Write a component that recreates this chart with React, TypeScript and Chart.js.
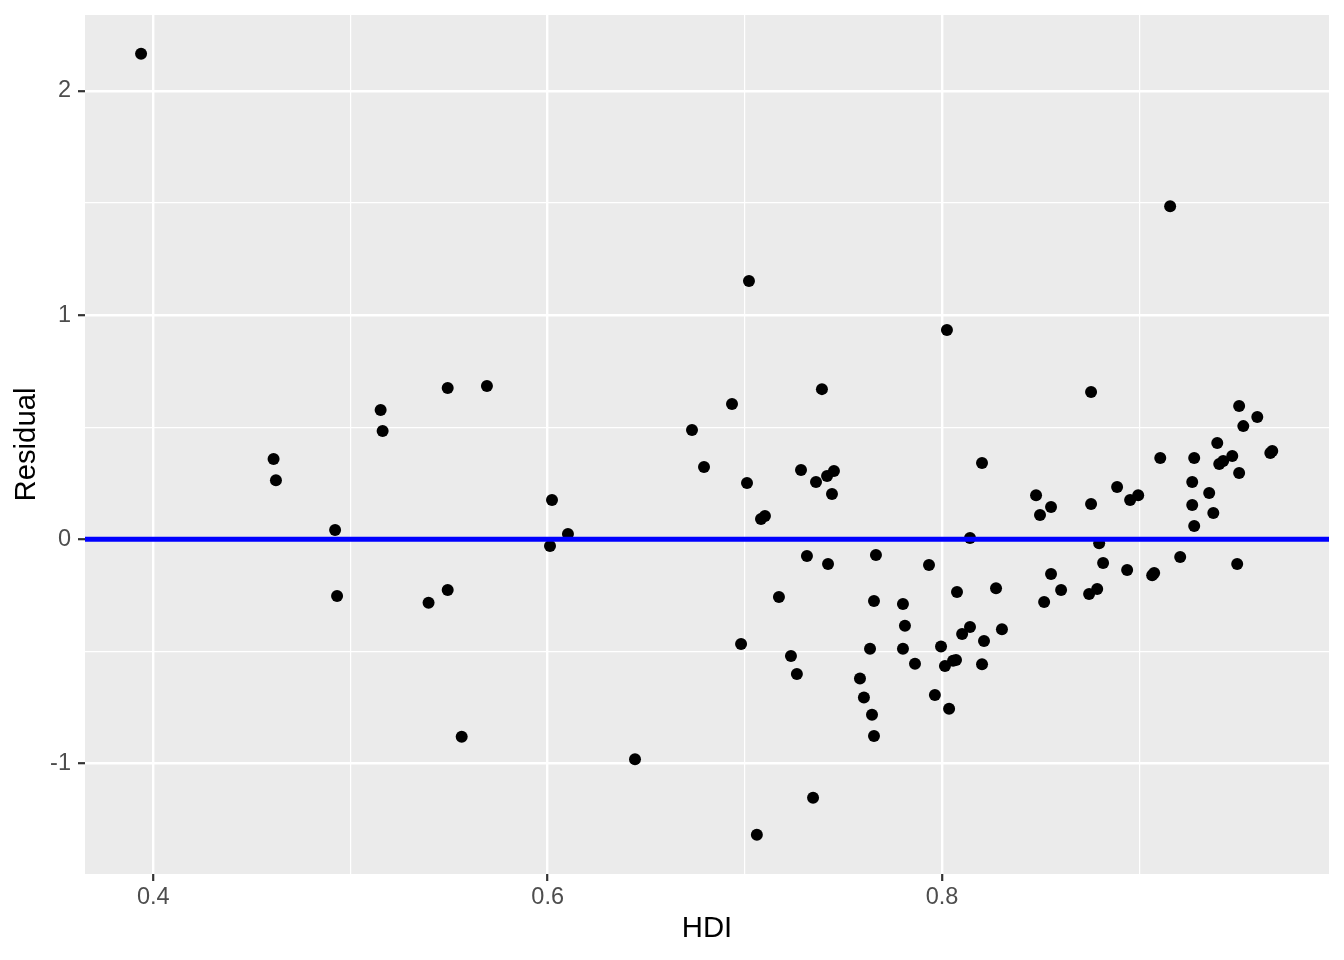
import React, { useEffect, useRef } from "react";
import { Chart, registerables } from "chart.js";

Chart.register(...registerables);

// HDI (x) for each country
const hdi = [
  0.3938, 0.461, 0.4622, 0.4922, 0.4932, 0.5153, 0.5163, 0.5396, 0.5493, 0.5493,
  0.5564, 0.5692, 0.6012, 0.6022, 0.6103, 0.6443, 0.6732, 0.6793, 0.6935, 0.6981,
  0.7011, 0.7021, 0.7061, 0.7082, 0.7102, 0.7173, 0.7234, 0.7264, 0.7285, 0.7315,
  0.7346, 0.7361, 0.7391, 0.7417, 0.7422, 0.7442, 0.7452, 0.7584, 0.7604, 0.7635,
  0.7645, 0.7655, 0.7655, 0.7665, 0.7802, 0.7802, 0.7812, 0.7863, 0.7934, 0.7964,
  0.7995, 0.8015, 0.8025, 0.8036, 0.8056, 0.8071, 0.8076, 0.8102, 0.8142, 0.8142,
  0.8203, 0.8203, 0.8213, 0.8274, 0.8304, 0.8477, 0.8497, 0.8518, 0.8553, 0.8553,
  0.8604, 0.8746, 0.8756, 0.8756, 0.8787, 0.8797, 0.8817, 0.8888, 0.8939, 0.8954,
  0.8995, 0.9066, 0.9076, 0.9107, 0.9157, 0.9208, 0.9269, 0.9269, 0.9279, 0.9279,
  0.9355, 0.9376, 0.9396, 0.9406, 0.9426, 0.9472, 0.9497, 0.9507, 0.9507, 0.9528,
  0.9599, 0.9665, 0.9675,
];

// Residual (y) for each country
const residual = [
  2.166, 0.358, 0.264, 0.042, -0.253, 0.577, 0.483, -0.283, 0.675, -0.226,
  -0.881, 0.684, -0.03, 0.175, 0.024, -0.981, 0.488, 0.323, 0.604, -0.467,
  0.251, 1.152, -1.318, 0.091, 0.104, -0.257, -0.52, -0.601, 0.309, -0.074,
  -1.153, 0.256, 0.67, 0.283, -0.11, 0.202, 0.305, -0.621, -0.706, -0.488,
  -0.783, -0.275, -0.877, -0.07, -0.289, -0.488, -0.386, -0.555, -0.115, -0.694,
  -0.478, -0.565, 0.934, -0.756, -0.542, -0.538, -0.235, -0.422, -0.391, 0.006,
  0.34, -0.557, -0.454, -0.218, -0.401, 0.197, 0.108, -0.28, -0.155, 0.144,
  -0.226, -0.244, 0.158, 0.657, -0.222, -0.017, -0.106, 0.233, -0.137, 0.175,
  0.197, -0.16, -0.15, 0.363, 1.486, -0.079, 0.256, 0.153, 0.363, 0.059,
  0.207, 0.117, 0.43, 0.336, 0.349, 0.372, -0.11, 0.595, 0.296, 0.505,
  0.546, 0.385, 0.394,
];

const referenceLine = 0;

const xGridValues = [0.4, 0.5, 0.6, 0.7, 0.8, 0.9];
const xTickLabels = [0.4, 0.6, 0.8];
const yGridValues = [-1, -0.5, 0, 0.5, 1, 1.5, 2];
const yTickLabels = [-1, 0, 1, 2];

const xLimits = [0.36536, 0.99627];
const yLimits = [-1.493, 2.339];

const FONT = "'Liberation Sans', Arial, Helvetica, sans-serif";

const isMajor = (list: number[], v: number) =>
  list.some((m) => Math.abs(m - v) < 1e-9);

const panelBackground = {
  id: "panelBackground",
  beforeDraw(chart: any) {
    const { ctx, chartArea } = chart;
    ctx.save();
    ctx.fillStyle = "#EBEBEB";
    ctx.fillRect(
      chartArea.left,
      chartArea.top,
      chartArea.right - chartArea.left,
      chartArea.bottom - chartArea.top
    );
    ctx.restore();
  },
};

const clearPadding = (scale: any) => {
  scale.paddingTop = 0;
  scale.paddingBottom = 0;
  scale.paddingLeft = 0;
  scale.paddingRight = 0;
};

export default function App() {
  const canvasRef = useRef<HTMLCanvasElement | null>(null);

  useEffect(() => {
    if (!canvasRef.current) return;
    const points = hdi.map((x, i) => ({ x, y: residual[i] }));
    const chart = new Chart(canvasRef.current, {
      type: "scatter",
      data: {
        datasets: [
          {
            type: "line",
            data: [
              { x: xLimits[0], y: referenceLine },
              { x: xLimits[1], y: referenceLine },
            ],
            borderColor: "#0000FF",
            borderWidth: 5,
            pointRadius: 0,
            fill: false,
            order: 0,
          } as any,
          {
            data: points,
            backgroundColor: "#000000",
            borderWidth: 0,
            pointRadius: 6,
            pointHoverRadius: 6,
            order: 1,
          },
        ],
      },
      options: {
        responsive: false,
        animation: false,
        events: [],
        layout: { padding: { left: 0, right: 15, top: 15, bottom: 0 } },
        plugins: {
          legend: { display: false },
          tooltip: { enabled: false },
        },
        scales: {
          x: {
            type: "linear",
            min: xLimits[0],
            max: xLimits[1],
            afterBuildTicks: (scale: any) => {
              scale.ticks = xGridValues.map((v) => ({ value: v }));
            },
            afterFit: (scale: any) => {
              scale.height = 86;
              clearPadding(scale);
            },
            border: { display: false },
            grid: {
              color: "#FFFFFF",
              lineWidth: (ctx: any) =>
                ctx.tick && isMajor(xTickLabels, ctx.tick.value) ? 2.4 : 1.2,
              tickColor: (ctx: any) =>
                ctx.tick && isMajor(xTickLabels, ctx.tick.value)
                  ? "#333333"
                  : "rgba(0,0,0,0)",
              tickWidth: 2.2,
              tickLength: 7,
              drawTicks: true,
            },
            ticks: {
              autoSkip: false,
              maxRotation: 0,
              padding: 2,
              color: "#4D4D4D",
              font: { family: FONT, size: 23.5 },
              callback: (value: any) =>
                isMajor(xTickLabels, Number(value)) ? Number(value).toFixed(1) : "",
            },
            title: {
              display: true,
              text: "HDI",
              color: "#000000",
              font: { family: FONT, size: 29.3 },
              padding: { top: 0, bottom: 13.6 },
            },
          },
          y: {
            type: "linear",
            min: yLimits[0],
            max: yLimits[1],
            afterBuildTicks: (scale: any) => {
              scale.ticks = yGridValues.map((v) => ({ value: v }));
            },
            afterFit: (scale: any) => {
              scale.width = 85;
              clearPadding(scale);
            },
            border: { display: false },
            grid: {
              color: "#FFFFFF",
              lineWidth: (ctx: any) =>
                ctx.tick && isMajor(yTickLabels, ctx.tick.value) ? 2.4 : 1.2,
              tickColor: (ctx: any) =>
                ctx.tick && isMajor(yTickLabels, ctx.tick.value)
                  ? "#333333"
                  : "rgba(0,0,0,0)",
              tickWidth: 2.2,
              tickLength: 7,
              drawTicks: true,
            },
            ticks: {
              autoSkip: false,
              padding: 7,
              color: "#4D4D4D",
              font: { family: FONT, size: 23.5 },
              callback: (value: any) =>
                isMajor(yTickLabels, Number(value)) ? String(Number(value)) : "",
            },
            title: {
              display: true,
              text: "Residual",
              color: "#000000",
              font: { family: FONT, size: 29.3 },
              padding: { top: 9.2, bottom: 0 },
            },
          },
        },
      },
      plugins: [panelBackground],
    });
    return () => chart.destroy();
  }, []);

  return (
    <div style={{ position: "absolute", left: 0, top: 0, width: 1344, height: 960 }}>
      <canvas
        ref={canvasRef}
        width={1344}
        height={960}
        style={{ display: "block", width: 1344, height: 960 }}
      />
    </div>
  );
}
